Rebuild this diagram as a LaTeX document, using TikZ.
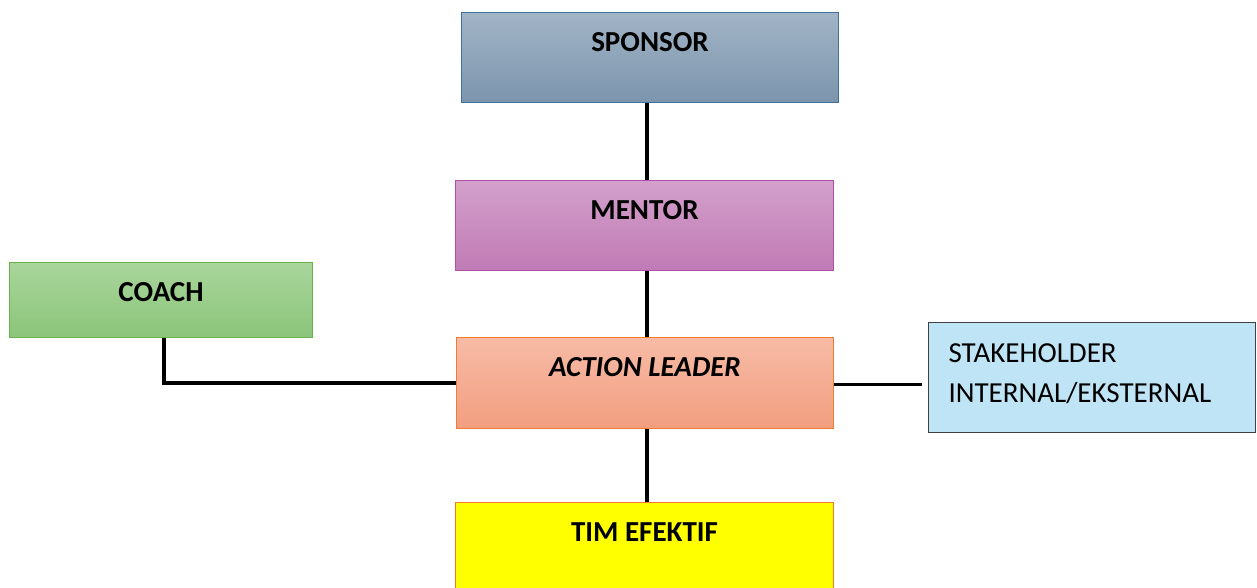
\documentclass[tikz,border=0pt]{standalone}
\usepackage{fontspec}
\setmainfont{Carlito}
\definecolor{spT}{HTML}{A2B4C6}\definecolor{spB}{HTML}{7B95AD}\definecolor{spD}{HTML}{41719C}
\definecolor{meT}{HTML}{D3A0CB}\definecolor{meB}{HTML}{C07BB4}\definecolor{meD}{HTML}{B04FA8}
\definecolor{coT}{HTML}{A9D59B}\definecolor{coB}{HTML}{8BC57A}\definecolor{coD}{HTML}{6AB04C}
\definecolor{alT}{HTML}{F7BBA6}\definecolor{alB}{HTML}{F29E80}\definecolor{alD}{HTML}{ED7D31}
\definecolor{skF}{HTML}{BFE4F5}\definecolor{skD}{HTML}{404040}
\definecolor{tmF}{RGB}{255,255,0}
\begin{document}
\begin{tikzpicture}[x=1pt,y=-1pt,
  box/.style={anchor=north west,inner sep=0pt,line width=1pt,align=center,
    font=\fontsize{29}{40}\selectfont\bfseries,text height=39pt},
  link/.style={line width=3.2pt,draw=black}]
\useasboundingbox (0,0) rectangle (1257,587);
\node[box,draw=spD,top color=spT,bottom color=spB,minimum width=377pt,text depth=51pt] (sp) at (461,12) {SPONSOR};
\node[box,draw=meD,top color=meT,bottom color=meB,minimum width=378pt,text depth=51pt] (me) at (455,180) {MENTOR};
\node[box,draw=coD,top color=coT,bottom color=coB,minimum width=303pt,text depth=36pt] (co) at (9,262) {COACH};
\node[box,draw=alD,top color=alT,bottom color=alB,minimum width=377pt,text depth=52pt] (al) at (456,337) {\itshape ACTION LEADER};
\node[box,draw=skD,fill=skF,text width=287pt,inner xsep=20pt,align=left,font=\fontsize{29}{40}\selectfont,text height=40pt,text depth=70pt] (sk) at (928,322) {STAKEHOLDER\\INTERNAL/EKSTERNAL};
\node[box,draw=alD,fill=tmF,minimum width=378pt,text depth=53pt] (tm) at (455,502) {TIM EFEKTIF};
\coordinate (cx) at (647,0);
\coordinate (cc) at (164,0);
\draw[link] (sp.south -| cx) -- (me.north -| cx);
\draw[link] (me.south -| cx) -- (al.north -| cx);
\draw[link] (al.south -| cx) -- (tm.north -| cx);
\draw[link] (co.south -| cc) |- (al.west);
\draw[link,shorten >=6pt] ([yshift=-1.5pt]al.east) -- ([yshift=-1.5pt]al.east -| sk.west);
\end{tikzpicture}
\end{document}
